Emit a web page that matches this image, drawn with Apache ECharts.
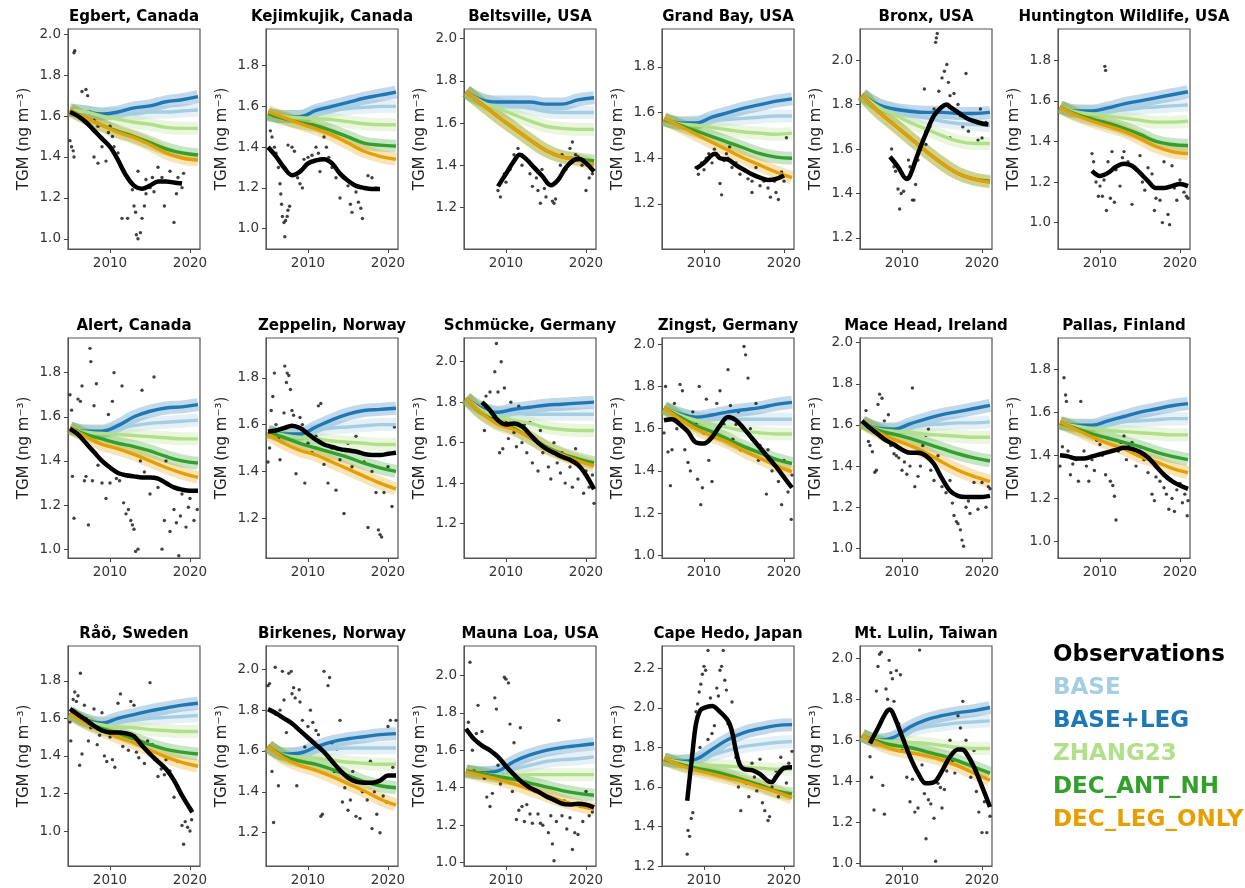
<!DOCTYPE html>
<html>
<head>
<meta charset="utf-8">
<script src="https://cdn.jsdelivr.net/npm/echarts@6/dist/echarts.min.js"></script>
<style>
html, body { margin: 0; padding: 0; background: #fff; }
#main { width: 1245px; height: 888px; }
</style>
</head>
<body>
<div id="main"></div>
<script>
// stations, in panel order (6 per row)
var sites = ['Egbert, Canada', 'Kejimkujik, Canada', 'Beltsville, USA', 'Grand Bay, USA', 'Bronx, USA', 'Huntington Wildlife, USA',
    'Alert, Canada', 'Zeppelin, Norway', 'Schmücke, Germany', 'Zingst, Germany', 'Mace Head, Ireland', 'Pallas, Finland',
    'Råö, Sweden', 'Birkenes, Norway', 'Mauna Loa, USA', 'Cape Hedo, Japan', 'Mt. Lulin, Taiwan'];

// y axis limits and tick labels for each panel
var yRange = [[0.95, 2.026], [0.90, 1.98], [1.003, 2.046], [1.003, 1.966], [1.15, 2.14], [0.87, 1.954],
    [0.96, 1.957], [1.03, 1.97], [1.03, 2.117], [0.987, 2.03], [0.953, 2.023], [0.924, 1.944],
    [0.814, 1.985], [1.037, 2.114], [0.982, 2.157], [1.2, 2.313], [0.987, 2.06]];
var yTicks = [[1.0, 1.2, 1.4, 1.6, 1.8, 2.0], [1.0, 1.2, 1.4, 1.6, 1.8], [1.2, 1.4, 1.6, 1.8, 2.0], [1.2, 1.4, 1.6, 1.8], [1.2, 1.4, 1.6, 1.8, 2.0], [1.0, 1.2, 1.4, 1.6, 1.8],
    [1.0, 1.2, 1.4, 1.6, 1.8], [1.2, 1.4, 1.6, 1.8], [1.2, 1.4, 1.6, 1.8, 2.0], [1.0, 1.2, 1.4, 1.6, 1.8, 2.0], [1.0, 1.2, 1.4, 1.6, 1.8, 2.0], [1.0, 1.2, 1.4, 1.6, 1.8],
    [1.0, 1.2, 1.4, 1.6, 1.8], [1.2, 1.4, 1.6, 1.8, 2.0], [1.0, 1.2, 1.4, 1.6, 1.8, 2.0], [1.2, 1.4, 1.6, 1.8, 2.0, 2.2], [1.0, 1.2, 1.4, 1.6, 1.8, 2.0]];
var xTicks = [2010, 2020];

// model curves, sampled every two years
var modelYears = [2005, 2007, 2009, 2011, 2013, 2015, 2017, 2019, 2021];
var base = [
    [1.63, 1.62, 1.61, 1.61, 1.61, 1.62, 1.62, 1.625, 1.63],
    [1.56, 1.55, 1.55, 1.57, 1.58, 1.59, 1.595, 1.60, 1.60],
    [1.75, 1.71, 1.69, 1.68, 1.67, 1.655, 1.65, 1.65, 1.65],
    [1.57, 1.555, 1.56, 1.565, 1.57, 1.575, 1.58, 1.585, 1.585],
    [1.845, 1.80, 1.775, 1.755, 1.74, 1.725, 1.715, 1.71, 1.705],
    [1.57, 1.55, 1.545, 1.55, 1.555, 1.565, 1.57, 1.575, 1.58],
    [1.55, 1.535, 1.53, 1.545, 1.56, 1.57, 1.575, 1.58, 1.585],
    [1.57, 1.56, 1.56, 1.575, 1.585, 1.59, 1.595, 1.60, 1.60],
    [1.82, 1.77, 1.745, 1.745, 1.74, 1.74, 1.74, 1.74, 1.74],
    [1.70, 1.67, 1.65, 1.645, 1.645, 1.645, 1.645, 1.645, 1.645],
    [1.615, 1.585, 1.575, 1.59, 1.60, 1.605, 1.61, 1.61, 1.615],
    [1.55, 1.54, 1.535, 1.545, 1.555, 1.56, 1.565, 1.57, 1.57],
    [1.63, 1.59, 1.57, 1.58, 1.59, 1.60, 1.605, 1.61, 1.615],
    [1.625, 1.585, 1.585, 1.60, 1.61, 1.615, 1.615, 1.615, 1.615],
    [1.49, 1.48, 1.48, 1.50, 1.52, 1.54, 1.55, 1.555, 1.565],
    [1.74, 1.73, 1.735, 1.76, 1.785, 1.805, 1.815, 1.825, 1.83],
    [1.625, 1.60, 1.61, 1.645, 1.665, 1.675, 1.685, 1.69, 1.695]
];
var baseLeg = [
    [1.63, 1.62, 1.61, 1.62, 1.64, 1.65, 1.67, 1.68, 1.695],
    [1.56, 1.55, 1.55, 1.58, 1.60, 1.62, 1.64, 1.655, 1.67],
    [1.75, 1.71, 1.70, 1.70, 1.70, 1.69, 1.69, 1.71, 1.72],
    [1.57, 1.555, 1.555, 1.58, 1.60, 1.62, 1.635, 1.65, 1.66],
    [1.845, 1.80, 1.78, 1.77, 1.765, 1.765, 1.76, 1.76, 1.765],
    [1.57, 1.55, 1.55, 1.565, 1.585, 1.60, 1.615, 1.63, 1.645],
    [1.55, 1.535, 1.535, 1.56, 1.60, 1.625, 1.64, 1.645, 1.655],
    [1.57, 1.56, 1.56, 1.59, 1.62, 1.645, 1.66, 1.665, 1.67],
    [1.82, 1.77, 1.75, 1.765, 1.775, 1.785, 1.79, 1.795, 1.80],
    [1.70, 1.67, 1.655, 1.665, 1.68, 1.69, 1.70, 1.715, 1.725],
    [1.615, 1.585, 1.58, 1.605, 1.63, 1.65, 1.665, 1.68, 1.695],
    [1.55, 1.54, 1.54, 1.56, 1.58, 1.60, 1.615, 1.63, 1.64],
    [1.63, 1.59, 1.575, 1.60, 1.62, 1.64, 1.655, 1.67, 1.68],
    [1.625, 1.585, 1.59, 1.62, 1.645, 1.66, 1.67, 1.68, 1.685],
    [1.49, 1.48, 1.49, 1.54, 1.575, 1.60, 1.615, 1.625, 1.635],
    [1.74, 1.73, 1.74, 1.79, 1.84, 1.875, 1.895, 1.91, 1.915],
    [1.625, 1.60, 1.615, 1.665, 1.70, 1.72, 1.735, 1.745, 1.76]
];
var zhang23 = [
    [1.63, 1.62, 1.60, 1.585, 1.57, 1.56, 1.545, 1.54, 1.54],
    [1.56, 1.55, 1.545, 1.54, 1.535, 1.525, 1.515, 1.51, 1.51],
    [1.75, 1.70, 1.67, 1.64, 1.61, 1.585, 1.575, 1.57, 1.57],
    [1.57, 1.55, 1.545, 1.535, 1.525, 1.515, 1.51, 1.505, 1.51],
    [1.845, 1.79, 1.755, 1.72, 1.69, 1.66, 1.635, 1.625, 1.625],
    [1.57, 1.545, 1.535, 1.525, 1.515, 1.505, 1.495, 1.495, 1.50],
    [1.55, 1.53, 1.525, 1.52, 1.515, 1.51, 1.505, 1.50, 1.50],
    [1.57, 1.555, 1.545, 1.54, 1.53, 1.525, 1.52, 1.515, 1.515],
    [1.82, 1.76, 1.73, 1.71, 1.695, 1.675, 1.665, 1.66, 1.66],
    [1.70, 1.665, 1.64, 1.62, 1.605, 1.59, 1.58, 1.575, 1.575],
    [1.615, 1.58, 1.57, 1.565, 1.555, 1.55, 1.545, 1.54, 1.54],
    [1.55, 1.535, 1.525, 1.515, 1.51, 1.505, 1.50, 1.495, 1.495],
    [1.63, 1.585, 1.565, 1.555, 1.55, 1.54, 1.535, 1.53, 1.53],
    [1.625, 1.58, 1.57, 1.565, 1.555, 1.545, 1.54, 1.535, 1.535],
    [1.49, 1.475, 1.465, 1.465, 1.47, 1.47, 1.47, 1.47, 1.47],
    [1.74, 1.725, 1.715, 1.71, 1.705, 1.70, 1.695, 1.69, 1.69],
    [1.625, 1.60, 1.595, 1.59, 1.585, 1.575, 1.565, 1.56, 1.56]
];
var decAntNh = [
    [1.63, 1.59, 1.555, 1.525, 1.50, 1.47, 1.44, 1.42, 1.41],
    [1.565, 1.54, 1.52, 1.505, 1.48, 1.45, 1.42, 1.41, 1.405],
    [1.75, 1.69, 1.63, 1.575, 1.52, 1.47, 1.44, 1.43, 1.42],
    [1.57, 1.545, 1.52, 1.495, 1.47, 1.445, 1.42, 1.405, 1.40],
    [1.845, 1.77, 1.71, 1.65, 1.59, 1.535, 1.49, 1.465, 1.455],
    [1.57, 1.535, 1.51, 1.49, 1.465, 1.435, 1.40, 1.385, 1.38],
    [1.55, 1.52, 1.50, 1.48, 1.465, 1.445, 1.42, 1.40, 1.39],
    [1.57, 1.545, 1.52, 1.50, 1.48, 1.46, 1.435, 1.415, 1.40],
    [1.82, 1.745, 1.70, 1.67, 1.625, 1.58, 1.545, 1.52, 1.50],
    [1.70, 1.655, 1.615, 1.585, 1.55, 1.515, 1.485, 1.455, 1.435],
    [1.615, 1.575, 1.555, 1.535, 1.51, 1.485, 1.46, 1.44, 1.425],
    [1.55, 1.525, 1.50, 1.48, 1.46, 1.44, 1.415, 1.395, 1.38],
    [1.63, 1.58, 1.545, 1.52, 1.49, 1.46, 1.435, 1.42, 1.41],
    [1.625, 1.575, 1.55, 1.535, 1.51, 1.48, 1.45, 1.43, 1.42],
    [1.49, 1.475, 1.46, 1.445, 1.425, 1.405, 1.385, 1.37, 1.36],
    [1.74, 1.715, 1.695, 1.68, 1.66, 1.635, 1.61, 1.58, 1.565],
    [1.625, 1.595, 1.575, 1.565, 1.545, 1.525, 1.50, 1.47, 1.44]
];
var decLegOnly = [
    [1.63, 1.59, 1.555, 1.52, 1.495, 1.46, 1.42, 1.395, 1.385],
    [1.575, 1.545, 1.515, 1.49, 1.46, 1.42, 1.38, 1.355, 1.34],
    [1.75, 1.69, 1.63, 1.575, 1.52, 1.47, 1.44, 1.425, 1.40],
    [1.575, 1.54, 1.505, 1.47, 1.435, 1.40, 1.37, 1.34, 1.315],
    [1.845, 1.77, 1.71, 1.65, 1.59, 1.535, 1.49, 1.465, 1.45],
    [1.57, 1.53, 1.50, 1.475, 1.45, 1.415, 1.375, 1.35, 1.34],
    [1.55, 1.51, 1.475, 1.455, 1.43, 1.40, 1.37, 1.345, 1.325],
    [1.56, 1.52, 1.49, 1.47, 1.44, 1.41, 1.38, 1.35, 1.325],
    [1.82, 1.745, 1.69, 1.665, 1.625, 1.575, 1.54, 1.51, 1.485],
    [1.70, 1.645, 1.60, 1.565, 1.535, 1.495, 1.46, 1.425, 1.395],
    [1.615, 1.565, 1.53, 1.50, 1.465, 1.42, 1.38, 1.35, 1.325],
    [1.555, 1.52, 1.485, 1.455, 1.43, 1.395, 1.37, 1.34, 1.32],
    [1.625, 1.575, 1.535, 1.50, 1.47, 1.43, 1.395, 1.365, 1.345],
    [1.625, 1.565, 1.53, 1.505, 1.475, 1.44, 1.405, 1.365, 1.335],
    [1.485, 1.465, 1.445, 1.42, 1.39, 1.36, 1.33, 1.305, 1.285],
    [1.745, 1.71, 1.685, 1.665, 1.645, 1.625, 1.60, 1.575, 1.545],
    [1.625, 1.585, 1.555, 1.54, 1.525, 1.505, 1.475, 1.44, 1.405]
];

// smoothed observations: year, value, year, value ...
var obsLine = [
    [2005, 1.62, 2006, 1.60, 2007, 1.57, 2008, 1.53, 2009, 1.49, 2010, 1.45, 2011, 1.385, 2012, 1.31, 2013, 1.26, 2014, 1.245, 2015, 1.26, 2016, 1.28, 2017, 1.28, 2018, 1.275, 2019, 1.27],
    [2005, 1.40, 2006, 1.355, 2007, 1.30, 2008, 1.262, 2009, 1.28, 2010, 1.32, 2011, 1.335, 2012, 1.34, 2013, 1.32, 2014, 1.27, 2015, 1.235, 2016, 1.21, 2017, 1.20, 2018, 1.195, 2019, 1.195],
    [2009, 1.30, 2010, 1.36, 2011, 1.42, 2011.7, 1.45, 2012.5, 1.43, 2013.5, 1.39, 2014.5, 1.35, 2015.6, 1.305, 2016.5, 1.33, 2017.5, 1.39, 2018.5, 1.425, 2019.2, 1.43, 2020, 1.41, 2021, 1.37],
    [2009, 1.355, 2010, 1.38, 2011, 1.415, 2011.4, 1.42, 2012, 1.40, 2013, 1.395, 2014, 1.37, 2015, 1.35, 2016, 1.33, 2017, 1.315, 2018, 1.305, 2019, 1.31, 2020, 1.325],
    [2008.5, 1.565, 2009.5, 1.52, 2010.6, 1.465, 2011, 1.48, 2012, 1.58, 2013, 1.67, 2014, 1.75, 2015, 1.79, 2015.6, 1.80, 2016, 1.79, 2017, 1.765, 2018, 1.74, 2019, 1.725, 2020, 1.715, 2020.8, 1.71],
    [2009, 1.255, 2010, 1.23, 2011, 1.245, 2012, 1.275, 2013, 1.29, 2014, 1.28, 2015, 1.245, 2016, 1.205, 2017, 1.17, 2018, 1.17, 2019, 1.18, 2020, 1.19, 2021, 1.18],
    [2005, 1.545, 2006, 1.52, 2007, 1.48, 2008, 1.44, 2009, 1.40, 2010, 1.37, 2011, 1.345, 2012, 1.335, 2013, 1.33, 2014, 1.325, 2015, 1.325, 2016, 1.32, 2017, 1.30, 2018, 1.28, 2019, 1.27, 2020, 1.265, 2021, 1.265],
    [2005, 1.57, 2006, 1.575, 2007, 1.585, 2008, 1.595, 2009, 1.585, 2010, 1.56, 2011, 1.535, 2012, 1.515, 2013, 1.505, 2014, 1.495, 2015, 1.49, 2016, 1.485, 2017, 1.475, 2018, 1.47, 2019, 1.47, 2020, 1.475, 2021, 1.48],
    [2007, 1.80, 2008, 1.76, 2009, 1.71, 2010, 1.69, 2011, 1.695, 2012, 1.68, 2013, 1.64, 2014, 1.60, 2015, 1.57, 2016, 1.55, 2017, 1.53, 2018, 1.515, 2019, 1.49, 2020, 1.44, 2021, 1.37],
    [2005, 1.64, 2006, 1.645, 2007, 1.62, 2008, 1.585, 2009, 1.535, 2010, 1.53, 2011, 1.56, 2012, 1.615, 2013, 1.655, 2014, 1.64, 2015, 1.60, 2016, 1.555, 2017, 1.51, 2018, 1.465, 2019, 1.42, 2020, 1.37, 2021, 1.32],
    [2005, 1.62, 2006, 1.585, 2007, 1.555, 2008, 1.525, 2009, 1.505, 2010, 1.48, 2011, 1.465, 2012, 1.465, 2013, 1.45, 2014, 1.41, 2015, 1.34, 2016, 1.28, 2017, 1.255, 2018, 1.25, 2019, 1.25, 2020, 1.25, 2021, 1.255],
    [2005, 1.40, 2006, 1.395, 2007, 1.385, 2008, 1.385, 2009, 1.395, 2010, 1.405, 2011, 1.415, 2012, 1.425, 2013, 1.435, 2014, 1.43, 2015, 1.415, 2016, 1.39, 2017, 1.35, 2018, 1.31, 2019, 1.28, 2020, 1.26, 2021, 1.245],
    [2005, 1.65, 2006, 1.62, 2007, 1.59, 2008, 1.56, 2009, 1.535, 2010, 1.525, 2011, 1.525, 2012, 1.52, 2013, 1.505, 2014, 1.455, 2015, 1.41, 2016, 1.37, 2017, 1.33, 2018, 1.27, 2019, 1.19, 2020, 1.12, 2020.3, 1.10],
    [2005, 1.805, 2006, 1.785, 2007, 1.76, 2008, 1.735, 2009, 1.70, 2010, 1.665, 2011, 1.63, 2012, 1.595, 2013, 1.55, 2014, 1.505, 2015, 1.47, 2016, 1.45, 2017, 1.445, 2018, 1.445, 2019, 1.455, 2020, 1.48, 2021, 1.48],
    [2005, 1.715, 2006, 1.66, 2007, 1.625, 2008, 1.60, 2009, 1.565, 2010, 1.515, 2011, 1.47, 2012, 1.43, 2013, 1.40, 2014, 1.38, 2015, 1.355, 2016, 1.335, 2017, 1.315, 2018, 1.31, 2019, 1.315, 2020, 1.31, 2021, 1.295],
    [2007.9, 1.53, 2008.5, 1.75, 2009, 1.92, 2009.5, 1.985, 2010, 2.00, 2011, 2.01, 2012, 1.98, 2013, 1.935, 2013.5, 1.88, 2014, 1.78, 2014.5, 1.71, 2015, 1.69, 2016, 1.685, 2017, 1.665, 2018, 1.63, 2018.5, 1.625, 2019, 1.65, 2020, 1.695, 2021, 1.70],
    [2006, 1.585, 2007, 1.66, 2008, 1.735, 2008.5, 1.75, 2009, 1.72, 2010, 1.62, 2011, 1.52, 2012, 1.44, 2013, 1.39, 2014, 1.395, 2015, 1.45, 2016, 1.52, 2017, 1.555, 2017.5, 1.555, 2018, 1.54, 2019, 1.47, 2020, 1.375, 2021, 1.275]
];

// monthly observation points: year, value, year, value ...
var obsPoints = [
    [2005.5, 1.91, 2005.6, 1.92, 2005, 1.48, 2005.2, 1.45, 2005.5, 1.40, 2005.4, 1.43, 2006.5, 1.72, 2007, 1.73, 2007.2, 1.70, 2007.5, 1.62, 2008, 1.58, 2008.5, 1.55, 2008, 1.40, 2008.5, 1.37, 2009, 1.45, 2009.5, 1.38, 2009.8, 1.52, 2010, 1.55, 2010.3, 1.50, 2010.5, 1.45, 2011, 1.42, 2011.5, 1.10, 2012.2, 1.10, 2012.8, 1.24, 2013, 1.16, 2013.2, 1.13, 2013.3, 1.02, 2013.5, 1.00, 2013.8, 1.03, 2014, 1.10, 2014.3, 1.16, 2014.5, 1.22, 2015, 1.25, 2015.3, 1.30, 2015.5, 1.23, 2016, 1.35, 2016.5, 1.30, 2016.8, 1.16, 2017, 1.28, 2017.5, 1.33, 2018, 1.08, 2018.3, 1.22, 2018.5, 1.30, 2019, 1.25, 2019.2, 1.32, 2014.5, 1.29, 2013.5, 1.33],
    [2005.3, 1.48, 2005.5, 1.45, 2005.8, 1.40, 2006, 1.37, 2006.3, 1.30, 2006.5, 1.22, 2006.6, 1.17, 2006.7, 1.12, 2006.8, 1.06, 2007, 1.03, 2007.1, 0.96, 2007.2, 1.04, 2007.4, 1.06, 2007.5, 1.09, 2007.7, 1.11, 2008, 1.40, 2008.3, 1.38, 2008.7, 1.25, 2009, 1.22, 2009.3, 1.20, 2009.5, 1.30, 2010, 1.35, 2010.5, 1.36, 2011, 1.40, 2011.3, 1.37, 2011.5, 1.28, 2012, 1.45, 2012.3, 1.40, 2012.6, 1.35, 2013, 1.30, 2013.5, 1.25, 2014, 1.15, 2015, 1.21, 2015.3, 1.12, 2015.5, 1.08, 2016, 1.18, 2016.3, 1.13, 2016.6, 1.10, 2016.8, 1.05, 2017.5, 1.26, 2018, 1.25, 2018.5, 1.20, 2007.5, 1.41, 2009.5, 1.34],
    [2009, 1.28, 2009.3, 1.25, 2009.5, 1.33, 2009.8, 1.36, 2010, 1.32, 2010.5, 1.38, 2011, 1.45, 2011.5, 1.48, 2012, 1.40, 2012.5, 1.43, 2013, 1.36, 2013.3, 1.30, 2013.8, 1.34, 2014, 1.28, 2014.3, 1.22, 2014.8, 1.29, 2015, 1.25, 2015.5, 1.31, 2015.8, 1.23, 2016, 1.22, 2016.2, 1.24, 2016.8, 1.40, 2017, 1.45, 2017.5, 1.38, 2018, 1.48, 2018.3, 1.51, 2018.7, 1.45, 2019, 1.44, 2019.5, 1.40, 2020, 1.28, 2020.4, 1.34, 2020.8, 1.36, 2014.5, 1.38, 2012, 1.45],
    [2009, 1.36, 2009.3, 1.33, 2009.7, 1.38, 2010, 1.35, 2010.3, 1.40, 2010.6, 1.42, 2011, 1.38, 2011.3, 1.44, 2011.7, 1.41, 2012, 1.29, 2012.2, 1.24, 2012.5, 1.39, 2012.8, 1.42, 2013, 1.40, 2013.5, 1.36, 2014, 1.38, 2014.5, 1.33, 2015, 1.35, 2015.5, 1.31, 2016, 1.30, 2016.5, 1.36, 2017, 1.28, 2017.5, 1.30, 2018, 1.27, 2018.3, 1.23, 2018.8, 1.30, 2019, 1.25, 2019.3, 1.22, 2019.7, 1.34, 2020, 1.30, 2020.3, 1.49, 2016, 1.25, 2013.2, 1.45],
    [2008.7, 1.60, 2009, 1.52, 2009.2, 1.50, 2009.5, 1.42, 2009.7, 1.33, 2009.9, 1.40, 2010.2, 1.41, 2010.5, 1.47, 2010.8, 1.55, 2011, 1.52, 2011.3, 1.37, 2011.5, 1.37, 2011.7, 1.44, 2012, 1.55, 2012.5, 1.60, 2012.8, 1.87, 2013, 1.68, 2013.5, 1.70, 2014, 1.78, 2014.2, 2.08, 2014.3, 2.10, 2014.4, 2.12, 2014.6, 1.86, 2015, 1.92, 2015.3, 1.95, 2015.6, 1.98, 2015.8, 1.90, 2016, 1.84, 2016.5, 1.85, 2017, 1.80, 2017.3, 1.75, 2017.6, 1.70, 2018, 1.94, 2018.3, 1.68, 2018.7, 1.76, 2019, 1.72, 2019.5, 1.64, 2019.8, 1.78, 2020, 1.65, 2020.5, 1.72, 2013, 1.62, 2016, 1.65],
    [2009, 1.34, 2009.2, 1.30, 2009.5, 1.20, 2009.8, 1.13, 2010, 1.18, 2010.3, 1.13, 2010.5, 1.21, 2010.6, 1.77, 2010.7, 1.75, 2010.8, 1.06, 2011, 1.30, 2011.3, 1.12, 2011.5, 1.35, 2011.8, 1.10, 2012, 1.26, 2012.5, 1.18, 2012.8, 1.32, 2013, 1.35, 2013.5, 1.30, 2014, 1.09, 2014.2, 1.27, 2014.5, 1.26, 2015, 1.33, 2015.3, 1.20, 2015.6, 1.16, 2016, 1.27, 2016.5, 1.24, 2016.8, 1.06, 2017, 1.12, 2017.5, 1.11, 2017.8, 1.00, 2018, 1.30, 2018.5, 1.04, 2018.7, 0.99, 2019, 1.28, 2019.3, 1.17, 2019.6, 1.11, 2020, 1.21, 2020.5, 1.15, 2020.8, 1.13, 2021, 1.12],
    [2005, 1.70, 2005.2, 1.63, 2005.3, 1.33, 2005.5, 1.14, 2006, 1.68, 2006.3, 1.67, 2006.5, 1.74, 2006.8, 1.31, 2007, 1.33, 2007.3, 1.11, 2007.5, 1.91, 2007.6, 1.85, 2007.8, 1.31, 2008, 1.65, 2008.3, 1.75, 2008.5, 1.38, 2009, 1.30, 2009.5, 1.23, 2009.8, 1.61, 2010, 1.30, 2010.3, 1.67, 2010.5, 1.80, 2010.8, 1.32, 2011.2, 1.31, 2011.5, 1.74, 2011.7, 1.21, 2012, 1.16, 2012.3, 1.18, 2012.6, 1.13, 2012.8, 1.11, 2013, 1.09, 2013.2, 0.99, 2013.5, 1.00, 2013.8, 1.40, 2014, 1.72, 2014.3, 1.35, 2015, 1.25, 2015.5, 1.78, 2016, 1.28, 2016.5, 1.00, 2016.8, 1.13, 2017, 1.40, 2017.5, 1.08, 2018, 1.18, 2018.3, 1.12, 2018.6, 0.97, 2018.8, 1.15, 2019, 1.25, 2019.5, 1.10, 2019.8, 1.19, 2020, 1.23, 2020.5, 1.13, 2020.9, 1.18],
    [2005, 1.44, 2005.2, 1.50, 2005.4, 1.66, 2005.6, 1.72, 2005.8, 1.82, 2006, 1.60, 2006.3, 1.54, 2006.5, 1.45, 2007, 1.65, 2007.1, 1.85, 2007.3, 1.78, 2007.4, 1.82, 2007.6, 1.81, 2007.8, 1.75, 2008, 1.66, 2008.2, 1.64, 2008.5, 1.39, 2009, 1.63, 2009.3, 1.60, 2009.6, 1.35, 2010, 1.52, 2010.5, 1.48, 2011, 1.55, 2011.3, 1.68, 2011.6, 1.69, 2012, 1.43, 2012.5, 1.35, 2013, 1.50, 2013.5, 1.32, 2014, 1.45, 2014.5, 1.22, 2015, 1.52, 2015.5, 1.42, 2016, 1.55, 2016.5, 1.48, 2017, 1.44, 2017.5, 1.16, 2018, 1.40, 2018.5, 1.31, 2018.8, 1.15, 2019, 1.13, 2019.2, 1.12, 2019.5, 1.31, 2020, 1.42, 2020.5, 1.25, 2020.8, 1.59],
    [2007, 1.77, 2007.3, 1.66, 2007.5, 1.83, 2008, 1.85, 2008.3, 1.72, 2008.6, 1.95, 2008.8, 2.09, 2009, 1.85, 2009.2, 1.55, 2009.4, 2.00, 2009.6, 1.57, 2009.8, 1.87, 2010, 1.70, 2010.3, 1.62, 2010.6, 1.80, 2011, 1.65, 2011.3, 1.58, 2011.6, 1.78, 2012, 1.60, 2012.3, 1.69, 2012.6, 1.55, 2013, 1.70, 2013.3, 1.50, 2013.6, 1.62, 2014, 1.46, 2014.3, 1.66, 2014.6, 1.55, 2015, 1.58, 2015.3, 1.48, 2015.6, 1.42, 2016, 1.60, 2016.4, 1.50, 2016.8, 1.45, 2017, 1.55, 2017.4, 1.40, 2017.8, 1.52, 2018, 1.48, 2018.3, 1.38, 2018.7, 1.57, 2019, 1.42, 2019.4, 1.51, 2019.7, 1.35, 2020, 1.46, 2020.4, 1.38, 2020.8, 1.44, 2021, 1.30],
    [2005, 1.58, 2005.2, 1.80, 2005.5, 1.49, 2005.8, 1.33, 2006, 1.50, 2006.3, 1.72, 2006.6, 1.60, 2007, 1.81, 2007.3, 1.78, 2007.6, 1.50, 2008, 1.44, 2008.3, 1.40, 2008.6, 1.68, 2009, 1.62, 2009.2, 1.36, 2009.4, 1.80, 2009.6, 1.24, 2009.8, 1.32, 2010, 1.58, 2010.3, 1.74, 2010.6, 1.45, 2011, 1.35, 2011.3, 1.56, 2011.6, 1.72, 2012, 1.78, 2012.5, 1.62, 2013, 1.88, 2013.3, 1.71, 2013.6, 1.55, 2014, 1.62, 2014.3, 1.68, 2014.6, 1.50, 2015, 1.99, 2015.2, 1.95, 2015.5, 1.84, 2015.8, 1.60, 2016, 1.55, 2016.5, 1.72, 2016.8, 1.45, 2017, 1.52, 2017.5, 1.48, 2017.8, 1.29, 2018, 1.50, 2018.5, 1.40, 2019, 1.42, 2019.3, 1.35, 2019.7, 1.24, 2020, 1.45, 2020.5, 1.30, 2020.9, 1.17, 2021, 1.38],
    [2005.5, 1.67, 2005.8, 1.52, 2006, 1.50, 2006.3, 1.47, 2006.6, 1.37, 2006.8, 1.38, 2007, 1.70, 2007.2, 1.75, 2007.5, 1.73, 2007.8, 1.62, 2008, 1.55, 2008.3, 1.65, 2008.6, 1.50, 2009, 1.46, 2009.3, 1.45, 2009.6, 1.44, 2010, 1.38, 2010.3, 1.42, 2010.6, 1.36, 2011, 1.40, 2011.3, 1.78, 2011.6, 1.30, 2012, 1.35, 2012.3, 1.40, 2012.6, 1.50, 2013, 1.55, 2013.3, 1.58, 2013.6, 1.38, 2014, 1.33, 2014.5, 1.45, 2015, 1.30, 2015.5, 1.27, 2016, 1.33, 2016.3, 1.22, 2016.5, 1.16, 2016.8, 1.13, 2017, 1.12, 2017.3, 1.09, 2017.5, 1.04, 2017.7, 1.01, 2018, 1.20, 2018.3, 1.23, 2018.5, 1.17, 2019, 1.32, 2019.5, 1.19, 2020, 1.32, 2020.5, 1.20, 2020.8, 1.30, 2021, 1.29],
    [2005, 1.35, 2005.3, 1.44, 2005.5, 1.76, 2005.7, 1.68, 2005.8, 1.65, 2006, 1.42, 2006.3, 1.31, 2006.6, 1.36, 2007, 1.38, 2007.3, 1.28, 2007.6, 1.65, 2008, 1.42, 2008.3, 1.35, 2008.6, 1.28, 2009, 1.38, 2009.3, 1.33, 2009.6, 1.47, 2010, 1.45, 2010.3, 1.40, 2010.7, 1.31, 2011, 1.48, 2011.3, 1.28, 2011.6, 1.26, 2011.8, 1.21, 2012, 1.10, 2012.3, 1.42, 2012.6, 1.46, 2013, 1.49, 2013.3, 1.38, 2013.6, 1.45, 2014, 1.46, 2014.5, 1.35, 2015, 1.44, 2015.5, 1.38, 2016, 1.32, 2016.5, 1.22, 2016.8, 1.19, 2017, 1.30, 2017.5, 1.28, 2018, 1.25, 2018.3, 1.22, 2018.6, 1.15, 2019, 1.20, 2019.3, 1.14, 2019.6, 1.24, 2020, 1.27, 2020.3, 1.18, 2020.6, 1.22, 2020.9, 1.12, 2021, 1.19],
    [2005, 1.58, 2005.1, 1.48, 2005.4, 1.70, 2005.6, 1.74, 2005.8, 1.69, 2006, 1.72, 2006.2, 1.35, 2006.3, 1.84, 2006.5, 1.41, 2006.8, 1.67, 2007, 1.60, 2007.3, 1.48, 2007.6, 1.55, 2008, 1.65, 2008.4, 1.46, 2008.7, 1.51, 2009, 1.63, 2009.3, 1.40, 2009.6, 1.37, 2010, 1.50, 2010.3, 1.38, 2010.6, 1.34, 2011, 1.68, 2011.3, 1.73, 2011.6, 1.45, 2012, 1.52, 2012.3, 1.43, 2012.6, 1.69, 2013, 1.67, 2013.3, 1.42, 2013.6, 1.39, 2014, 1.46, 2014.3, 1.36, 2014.7, 1.48, 2015, 1.79, 2015.3, 1.46, 2015.6, 1.38, 2016, 1.29, 2016.4, 1.33, 2016.8, 1.30, 2017, 1.38, 2017.5, 1.32, 2018, 1.18, 2018.5, 1.37, 2019, 1.03, 2019.2, 0.93, 2019.4, 1.05, 2019.7, 1.02, 2020, 1.00, 2020.2, 1.06],
    [2005, 1.92, 2005.2, 1.93, 2005.5, 1.50, 2005.7, 1.25, 2005.9, 2.01, 2006, 1.78, 2006.3, 1.43, 2006.5, 1.80, 2006.8, 1.99, 2007, 1.85, 2007.3, 1.69, 2007.6, 1.98, 2007.9, 1.99, 2008, 1.88, 2008.2, 1.91, 2008.4, 1.86, 2008.6, 1.43, 2008.9, 1.90, 2009, 1.84, 2009.3, 1.75, 2009.6, 1.62, 2010, 1.72, 2010.3, 1.80, 2010.6, 1.74, 2011, 1.70, 2011.3, 1.68, 2011.6, 1.28, 2011.8, 1.29, 2012, 1.99, 2012.5, 1.92, 2012.7, 1.96, 2013, 1.64, 2013.3, 1.50, 2013.6, 1.61, 2014, 1.75, 2014.3, 1.35, 2014.6, 1.42, 2015, 1.31, 2015.3, 1.36, 2015.6, 1.50, 2016, 1.28, 2016.5, 1.27, 2016.8, 1.40, 2017, 1.45, 2017.4, 1.36, 2017.8, 1.55, 2018, 1.22, 2018.3, 1.40, 2018.6, 1.29, 2019, 1.20, 2019.4, 1.38, 2019.8, 1.35, 2020, 1.72, 2020.3, 1.75, 2020.6, 1.52, 2021, 1.75],
    [2005.5, 2.07, 2005.3, 1.75, 2005.8, 1.60, 2006, 1.49, 2006.3, 1.69, 2006.5, 1.84, 2007, 1.70, 2007.3, 1.45, 2007.6, 1.35, 2008, 1.30, 2008.3, 1.37, 2008.6, 1.88, 2008.8, 1.82, 2009, 1.52, 2009.3, 1.42, 2009.6, 1.47, 2009.8, 1.99, 2010, 1.98, 2010.3, 1.96, 2010.5, 1.74, 2010.8, 1.38, 2011, 1.64, 2011.3, 1.23, 2011.6, 1.28, 2011.8, 1.72, 2012, 1.30, 2012.3, 1.22, 2012.6, 1.31, 2013, 1.26, 2013.3, 1.21, 2013.6, 1.38, 2014, 1.26, 2014.3, 1.21, 2014.6, 1.20, 2015, 0.98, 2015.3, 1.16, 2015.6, 1.25, 2015.8, 1.10, 2016, 1.01, 2016.3, 1.22, 2016.6, 1.76, 2017, 1.25, 2017.3, 1.33, 2017.6, 1.18, 2018, 1.24, 2018.3, 1.07, 2018.6, 1.16, 2019, 1.15, 2019.3, 1.30, 2019.6, 1.22, 2020, 1.38, 2020.4, 1.25, 2020.8, 1.27],
    [2007.9, 1.26, 2008, 1.38, 2008.2, 1.35, 2008.4, 1.44, 2008.6, 1.47, 2009, 1.98, 2009.2, 2.02, 2009.4, 2.08, 2009.6, 2.12, 2009.8, 2.17, 2010, 2.21, 2010.2, 2.19, 2010.5, 2.29, 2010.8, 2.05, 2011, 1.87, 2011.3, 1.91, 2011.6, 2.10, 2011.8, 2.06, 2012, 2.19, 2012.2, 2.21, 2012.4, 2.29, 2012.6, 2.14, 2012.8, 2.09, 2013, 1.92, 2013.5, 2.03, 2013.8, 1.86, 2014, 1.75, 2014.3, 1.60, 2014.6, 1.48, 2015, 1.70, 2015.3, 1.62, 2015.6, 1.55, 2016, 1.72, 2016.3, 1.65, 2016.6, 1.58, 2017, 1.74, 2017.3, 1.52, 2017.6, 1.48, 2018, 1.43, 2018.2, 1.45, 2018.5, 1.60, 2019, 1.68, 2019.3, 1.55, 2019.6, 1.75, 2020, 1.70, 2020.3, 1.62, 2020.6, 1.72, 2021, 1.78, 2009.5, 1.80, 2010.5, 1.84],
    [2006, 1.52, 2006.2, 1.42, 2006.5, 1.26, 2006.8, 1.84, 2007, 1.96, 2007.2, 2.02, 2007.4, 2.03, 2007.6, 1.38, 2007.8, 1.24, 2008, 1.85, 2008.2, 1.80, 2008.4, 1.99, 2008.6, 1.93, 2008.8, 1.90, 2009, 1.79, 2009.3, 1.94, 2009.6, 1.68, 2009.8, 1.92, 2010, 1.55, 2010.3, 1.60, 2010.6, 1.42, 2011, 1.30, 2011.3, 1.41, 2011.6, 1.25, 2012, 1.27, 2012.2, 2.04, 2012.5, 1.48, 2012.8, 1.34, 2013, 1.12, 2013.3, 1.31, 2013.6, 1.29, 2014, 1.22, 2014.2, 1.01, 2014.5, 1.39, 2014.8, 1.37, 2015, 1.27, 2015.3, 1.36, 2015.6, 1.45, 2016, 1.60, 2016.3, 1.50, 2016.6, 1.44, 2017, 1.72, 2017.3, 1.66, 2017.6, 1.79, 2018, 1.60, 2018.3, 1.52, 2018.6, 1.42, 2019, 1.55, 2019.3, 1.35, 2019.6, 1.25, 2020, 1.15, 2020.3, 1.30, 2020.6, 1.15, 2021, 1.23]
];

var legendNames = ['Observations', 'BASE', 'BASE+LEG', 'ZHANG23', 'DEC_ANT_NH', 'DEC_LEG_ONLY'];
var legendColors = ['#000000', '#a6cee3', '#1f78b4', '#b2df8a', '#33a02c', '#e69f00'];

var FONT = 'DejaVu Sans';
var rowTop = [29, 338, 646];

function pairs(flat) {
    var out = [];
    for (var k = 0; k < flat.length; k += 2) out.push([flat[k], flat[k + 1]]);
    return out;
}

// a model curve, optionally drawn as a wide faint halo standing in for the monthly spread
function modelSeries(values, color, idx, z, halo) {
    return {
        type: 'line',
        xAxisIndex: idx,
        yAxisIndex: idx,
        data: modelYears.map(function (yr, k) { return [yr, values[k]]; }),
        smooth: 0.4,
        symbol: 'none',
        z: z,
        lineStyle: halo ? { color: color, width: 13, opacity: 0.28 } : { color: color, width: 3.4 },
        silent: true
    };
}

var grids = [], xAxes = [], yAxes = [], series = [], graphics = [];
var models = [base, baseLeg, zhang23, decAntNh, decLegOnly];

sites.forEach(function (name, i) {
    var row = Math.floor(i / 6), col = i % 6;
    var left = 68 + col * 198, top = rowTop[row];

    grids.push({ left: left, top: top, width: 132, height: 220, show: true, borderColor: '#555', borderWidth: 1.2 });

    graphics.push({
        type: 'text', x: left + 66, y: top - 12,
        style: { text: name, fill: '#000', font: 'bold 15px "' + FONT + '"', align: 'center', verticalAlign: 'middle' }
    });

    xAxes.push({
        gridIndex: i, type: 'value', min: 2004.75, max: 2021.25,
        splitLine: { show: false },
        axisLine: { show: true, lineStyle: { color: '#555' } },
        axisTick: { show: true, length: 4, customValues: xTicks, lineStyle: { color: '#444' } },
        axisLabel: { customValues: xTicks, fontSize: 13.5, color: '#333', fontFamily: FONT, margin: 7, formatter: function (v) { return String(v); } }
    });

    yAxes.push({
        gridIndex: i, type: 'value', min: yRange[i][0], max: yRange[i][1],
        name: 'TGM (ng m⁻³)', nameLocation: 'middle', nameGap: 36,
        nameTextStyle: { fontSize: 15, color: '#222', fontFamily: FONT },
        splitLine: { show: false },
        axisLine: { show: true, lineStyle: { color: '#555' } },
        axisTick: { show: true, length: 4, customValues: yTicks[i], lineStyle: { color: '#444' } },
        axisLabel: { customValues: yTicks[i], fontSize: 13.5, color: '#333', fontFamily: FONT, margin: 7, formatter: function (v) { return v.toFixed(1); } }
    });

    models.forEach(function (m, k) {
        series.push(modelSeries(m[i], legendColors[k + 1], i, 1, true));
    });
    series.push({
        type: 'scatter', xAxisIndex: i, yAxisIndex: i, z: 2,
        data: pairs(obsPoints[i]), symbolSize: 3.4,
        itemStyle: { color: '#111' }, silent: true
    });
    models.forEach(function (m, k) {
        series.push(modelSeries(m[i], legendColors[k + 1], i, 3, false));
    });
    series.push({
        type: 'line', xAxisIndex: i, yAxisIndex: i, z: 4,
        data: pairs(obsLine[i]), smooth: 0.35, symbol: 'none',
        lineStyle: { color: '#000', width: 4.5 }, silent: true
    });
});

// legend as coloured words in the empty last cell
legendNames.forEach(function (name, k) {
    graphics.push({
        type: 'text', x: 1053, y: 655 + k * 33,
        style: { text: name, fill: legendColors[k], font: 'bold 23px "' + FONT + '"', align: 'left', verticalAlign: 'middle' }
    });
});

var chart = echarts.init(document.getElementById('main'), null, { renderer: 'canvas' });
chart.setOption({
    animation: false,
    backgroundColor: '#fff',
    grid: grids,
    xAxis: xAxes,
    yAxis: yAxes,
    series: series,
    graphic: graphics
});
</script>
</body>
</html>
